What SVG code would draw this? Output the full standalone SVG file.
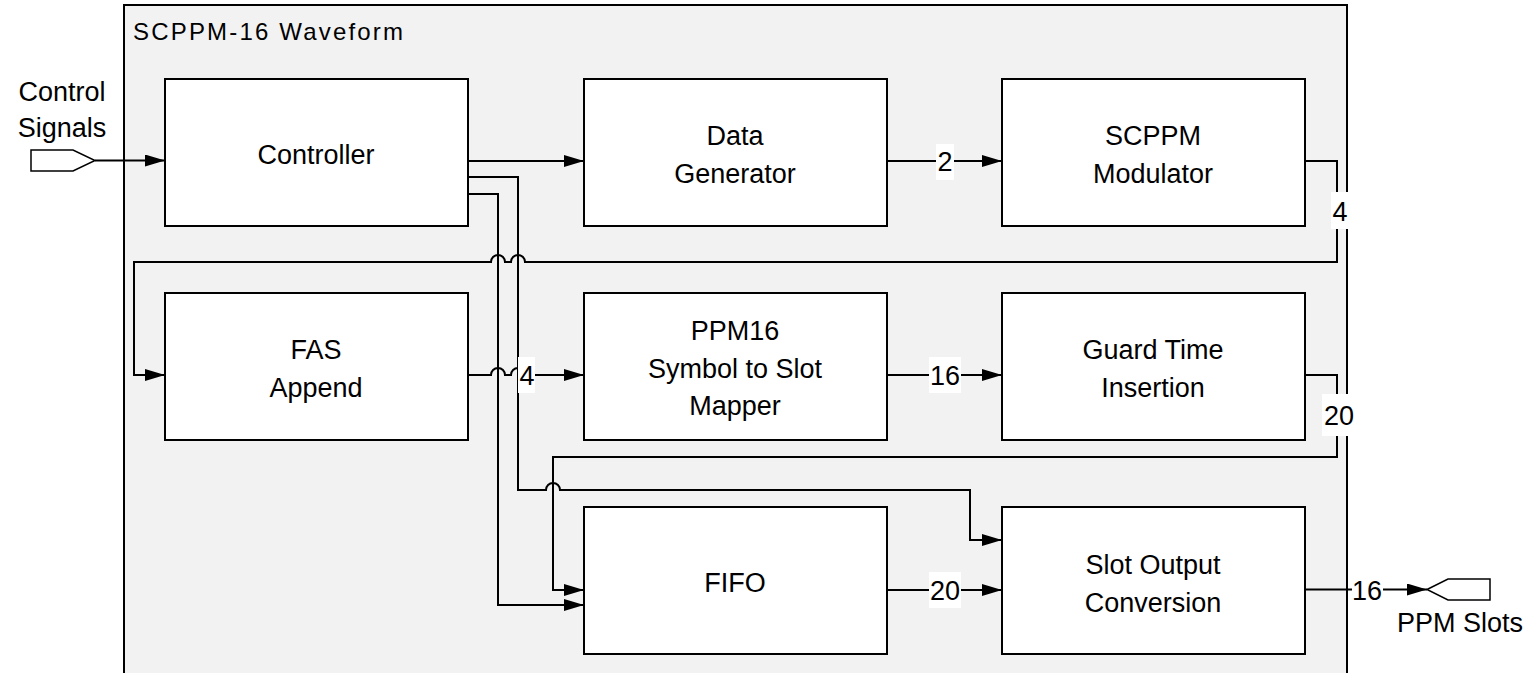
<svg xmlns="http://www.w3.org/2000/svg" width="1533" height="673" viewBox="0 0 1533 673">
<defs>
<style>
.box{fill:#fff;stroke:#000;stroke-width:2}
.t{font-family:"Liberation Sans",Arial,sans-serif;font-size:27px;fill:#000;text-anchor:middle}
.ln{fill:none;stroke:#000;stroke-width:2}
.lbl{fill:#fff}
</style>
<marker id="ah" markerWidth="20" markerHeight="12" refX="20" refY="6" orient="auto" markerUnits="userSpaceOnUse">
<path d="M0,0 L20,6 L0,12 Z" fill="#000"/>
</marker>
</defs>
<rect width="1533" height="673" fill="#fff"/>
<g id="container">
<rect x="124" y="5" width="1223" height="680" fill="#f2f2f2" stroke="#000" stroke-width="2"/>
<text x="133" y="40" font-family="Liberation Sans,Arial,sans-serif" font-size="24" textLength="270" lengthAdjust="spacing">SCPPM-16 Waveform</text>
</g>
<g id="control-signals">
<path d="M31,150 H73 L95,160.5 L73,171 H31 Z" fill="#fff" stroke="#000" stroke-width="1.5"/>
<text class="t" x="62" y="101">Control</text>
<text class="t" x="62" y="137">Signals</text>
</g>
<g id="ppm-slots">
<path d="M1427,589.5 L1448,579 H1490 V600 H1448 Z" fill="#fff" stroke="#000" stroke-width="1.5"/>
<text class="t" x="1460" y="632">PPM Slots</text>
</g>
<g id="controller"><rect class="box" x="165" y="79" width="303" height="147"/><text class="t" x="316" y="164">Controller</text></g>
<g id="data-generator"><rect class="box" x="584" y="79" width="303" height="147"/><text class="t" x="735" y="145">Data</text><text class="t" x="735" y="183">Generator</text></g>
<g id="scppm-modulator"><rect class="box" x="1002" y="79" width="303" height="147"/><text class="t" x="1153" y="145">SCPPM</text><text class="t" x="1153" y="183">Modulator</text></g>
<g id="fas-append"><rect class="box" x="165" y="293" width="303" height="147"/><text class="t" x="316" y="359">FAS</text><text class="t" x="316" y="397">Append</text></g>
<g id="ppm16-mapper"><rect class="box" x="584" y="293" width="303" height="147"/><text class="t" x="735" y="340">PPM16</text><text class="t" x="735" y="378">Symbol to Slot</text><text class="t" x="735" y="415">Mapper</text></g>
<g id="guard-time"><rect class="box" x="1002" y="293" width="303" height="147"/><text class="t" x="1153" y="359">Guard Time</text><text class="t" x="1153" y="397">Insertion</text></g>
<g id="fifo"><rect class="box" x="584" y="507" width="303" height="147"/><text class="t" x="735" y="592">FIFO</text></g>
<g id="slot-output"><rect class="box" x="1002" y="507" width="303" height="147"/><text class="t" x="1153" y="574">Slot Output</text><text class="t" x="1153" y="612">Conversion</text></g>
<g id="connectors">
<path class="ln" d="M95,160.5 H165" marker-end="url(#ah)"/>
<path class="ln" d="M468,161 H584" marker-end="url(#ah)"/>
<path class="ln" d="M468,177 H518 V490 H546 A7,7 0 0 1 560,490 H970 V540 H1002" marker-end="url(#ah)"/>
<path class="ln" d="M468,194 H498 V605 H584" marker-end="url(#ah)"/>
<path class="ln" d="M887,161 H1002" marker-end="url(#ah)"/>
<path class="ln" d="M1305,161 H1337 V262 H525 A7,7 0 0 0 511,262 H505 A7,7 0 0 0 491,262 H134 V375 H165" marker-end="url(#ah)"/>
<path class="ln" d="M468,375 H491 A7,7 0 0 1 505,375 H511 A7,7 0 0 1 525,375 H584" marker-end="url(#ah)"/>
<path class="ln" d="M887,375 H1002" marker-end="url(#ah)"/>
<path class="ln" d="M1305,375 H1337 V457 H553 V590 H584" marker-end="url(#ah)"/>
<path class="ln" d="M887,590 H1002" marker-end="url(#ah)"/>
<path class="ln" d="M1305,589.5 H1427" marker-end="url(#ah)"/>
<rect class="lbl" x="936" y="144" width="18" height="36"/><text class="t" x="945" y="171">2</text>
<rect class="lbl" x="1331" y="192" width="17" height="37"/><text class="t" x="1340" y="221">4</text>
<rect class="lbl" x="518" y="357" width="17" height="36"/><text class="t" x="527" y="385">4</text>
<rect class="lbl" x="929" y="357" width="32" height="36"/><text class="t" x="945" y="385">16</text>
<rect class="lbl" x="1322" y="394" width="34" height="42"/><text class="t" x="1339" y="425">20</text>
<rect class="lbl" x="929" y="572" width="32" height="36"/><text class="t" x="945" y="600">20</text>
<rect class="lbl" x="1352" y="572" width="31" height="36"/><text class="t" x="1367" y="600">16</text>
</g>
</svg>
